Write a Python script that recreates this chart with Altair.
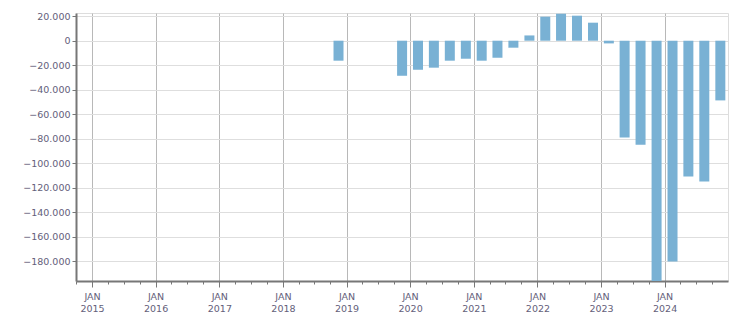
import altair as alt
import pandas as pd

quarters = ["2018-Q4",
            "2019-Q4", "2020-Q1", "2020-Q2", "2020-Q3", "2020-Q4",
            "2021-Q1", "2021-Q2", "2021-Q3", "2021-Q4",
            "2022-Q1", "2022-Q2", "2022-Q3", "2022-Q4",
            "2023-Q1", "2023-Q2", "2023-Q3", "2023-Q4",
            "2024-Q1", "2024-Q2", "2024-Q3", "2024-Q4"]
values = [-16300,
          -28600, -23700, -22000, -16300, -14700,
          -16300, -13900, -5700, 4300,
          19600, 22000, 20400, 14700,
          -2200, -78900, -84900, -196000,
          -180100, -110700, -114800, -48700]

y_ticks = [20000, 0, -20000, -40000, -60000, -80000, -100000, -120000,
           -140000, -160000, -180000]


def quarter_mid(q):
    year, qq = q.split("-Q")
    start = pd.Timestamp(int(year), 3 * (int(qq) - 1) + 1, 1)
    end = start + pd.DateOffset(months=3)
    return (start + (end - start) / 2).strftime("%Y-%m-%dT%H:%M:%S")


df = pd.DataFrame({"date": [quarter_mid(q) for q in quarters], "value": values})

text_color = "#64607a"
font = "DejaVu Sans"

x_axis = alt.Axis(
    title=None,
    format="%b",
    tickCount={"interval": "month", "step": 3},
    labelExpr="month(datum.value) == 0 ? ['JAN', timeFormat(datum.value, '%Y')] : ''",
    labelFont=font,
    labelFontSize=9.5,
    labelColor=text_color,
    labelPadding=4,
    labelLineHeight=12,
    labelAlign="center",
    labelOverlap=False,
    domainColor="#777777",
    domainWidth=2,
    tickColor="#777777",
    tickSize={"condition": {"test": "month(datum.value) == 0", "value": 6}, "value": 3},
    grid=True,
    gridColor={"condition": {"test": "month(datum.value) == 0", "value": "#b8b8b8"}, "value": "transparent"},
    gridWidth=1,
)

y_axis = alt.Axis(
    title=None,
    values=y_ticks,
    labelExpr="replace(format(datum.value, ',d'), /,/g, '.')",
    labelFont=font,
    labelFontSize=9.5,
    labelColor=text_color,
    labelPadding=2,
    domainColor="#777777",
    domainWidth=2,
    tickColor="#777777",
    tickSize=4,
    gridColor="#dedede",
    gridWidth=1,
)

chart = alt.Chart(df).mark_bar(size=10, color="#79b1d4").encode(
    x=alt.X("date:T", axis=x_axis,
            scale=alt.Scale(domain=["2014-10-01T00:00:00", "2024-12-30T00:00:00"],
                            nice=False, padding=0)),
    y=alt.Y("value:Q", axis=y_axis,
            scale=alt.Scale(domain=[-196000, 22600], nice=False, zero=False)),
).properties(
    width=652,
    height=268,
    autosize=alt.AutoSizeParams(type="none"),
    padding={"left": 76, "top": 13, "right": 23, "bottom": 32},
    background="white",
).configure_view(stroke="#dddddd", strokeWidth=1)

chart.save("out.html", embed_options={"renderer": "svg", "actions": False})
